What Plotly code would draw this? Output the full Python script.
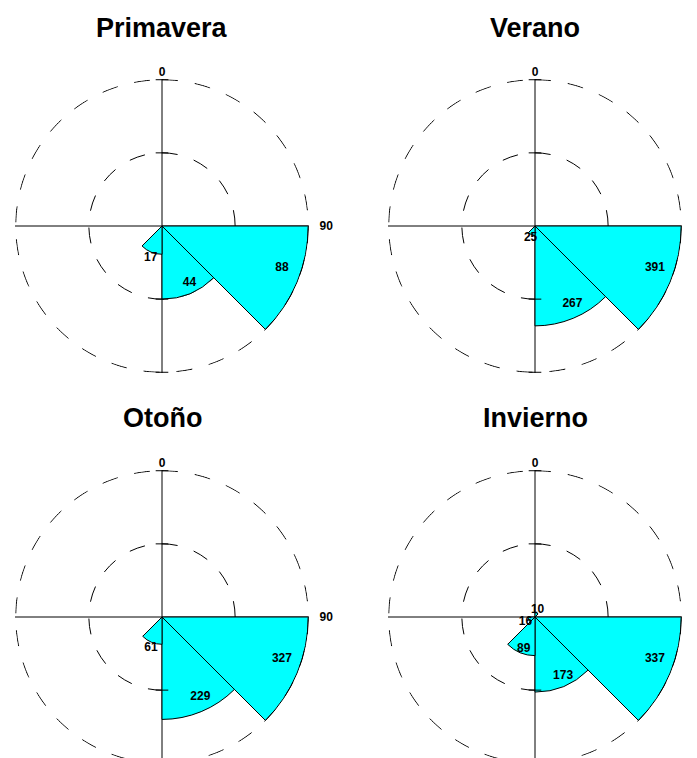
import plotly.graph_objects as go

# rose diagrams per season, 45 degree sectors (start angle of each sector)
sector_start = [0, 45, 90, 135, 180, 225, 270, 315]
primavera = [0, 0, 88, 44, 17, 0, 0, 0]
verano = [0, 0, 391, 267, 25, 0, 0, 0]
otono = [0, 0, 327, 229, 61, 0, 0, 0]
invierno = [10, 0, 337, 173, 89, 16, 0, 0]

season_names = ["Primavera", "Verano", "Otoño", "Invierno"]
season_values = [primavera, verano, otono, invierno]
axis_ticks = [0, 90, 180, 270]
axis_labels = ["0", "90", "", ""]

W, H = 697, 758
# page has an 8px body margin, so panel positions are given in figure pixels
panels = [(154, 218, 147), (527, 218, 147), (154, 609, 147), (527, 609, 147)]
title_y = [20, 20, 410, 410]

CYAN = "#00FFFF"
LABEL_FONT = dict(family="Liberation Sans Narrow, Arial Narrow, Liberation Sans, Arial",
                  size=12, color="black", weight="bold")
DASH = "16px,17px"

fig = go.Figure()
layout_polars = {}
circle_theta = list(range(0, 361, 1))

for i, (name, vals) in enumerate(zip(season_names, season_values)):
    pid = "polar" if i == 0 else f"polar{i + 1}"
    vmax = max(vals)
    theta = [s + 22.5 for s, v in zip(sector_start, vals) if v > 0]
    r = [v for v in vals if v > 0]

    # sectors
    fig.add_trace(go.Barpolar(
        r=r, theta=theta, width=[45] * len(r),
        marker=dict(color=CYAN, line=dict(color="black", width=1)),
        subplot=pid, showlegend=False, hoverinfo="skip",
    ))

    # outer dashed circle (the grid circle at the range edge is not drawn)
    fig.add_trace(go.Scatterpolar(
        r=[vmax] * len(circle_theta), theta=circle_theta, mode="lines",
        line=dict(color="black", width=1, dash=DASH),
        subplot=pid, showlegend=False, hoverinfo="skip",
    ))

    # small ticks on the vertical axis
    fig.add_trace(go.Scatterpolar(
        r=[vmax / 2, vmax, vmax / 2, vmax], theta=[0, 0, 180, 180],
        mode="markers",
        marker=dict(symbol="line-ew", size=9, line=dict(color="black", width=1)),
        subplot=pid, showlegend=False, hoverinfo="skip", cliponaxis=False,
    ))

    # value labels, a little before the middle of each sector
    label_r = [0.87 * v if v >= 0.25 * vmax else 1.1 * v + 0.02 * vmax for v in r]
    fig.add_trace(go.Scatterpolar(
        r=label_r, theta=[t - 3 for t in theta], mode="text", text=[str(v) for v in r],
        textfont=LABEL_FONT, textposition="middle center",
        subplot=pid, showlegend=False, hoverinfo="skip", cliponaxis=False,
    ))

    cx, cy, rad = panels[i]
    # range a hair past the max so the outer circle line is not clipped in half
    rmax = vmax * 1.005
    layout_polars[pid] = dict(
        domain=dict(x=[(cx - rad) / W, (cx + rad) / W],
                    y=[max(0, (H - cy - rad) / H), min(1, (H - cy + rad) / H)]),
        bgcolor="white",
        radialaxis=dict(
            range=[0, rmax], tickvals=[vmax / 2],
            showticklabels=False, ticks="", showline=False,
            showgrid=True, gridcolor="black", gridwidth=1, griddash=DASH,
            layer="below traces",
        ),
        angularaxis=dict(
            rotation=90, direction="clockwise",
            tickvals=axis_ticks,
            ticktext=[("\u00a0\u00a0\u00a0" + t) if a == 90 else t
                      for a, t in zip(axis_ticks, axis_labels)],
            tickfont=LABEL_FONT, ticks="",
            showline=False, showgrid=True, gridcolor="black", gridwidth=1,
            layer="below traces",
        ),
    )

    fig.add_annotation(
        text=f"<b>{name}</b>", x=cx / W, y=1 - title_y[i] / H,
        xref="paper", yref="paper", xanchor="center", yanchor="middle",
        showarrow=False,
        font=dict(family="Liberation Sans, Arial", size=27, color="black"),
    )

fig.update_layout(
    width=W, height=H,
    margin=dict(l=0, r=0, t=0, b=0),
    paper_bgcolor="white", plot_bgcolor="white",
    **layout_polars,
)

fig.write_html("out.html")
